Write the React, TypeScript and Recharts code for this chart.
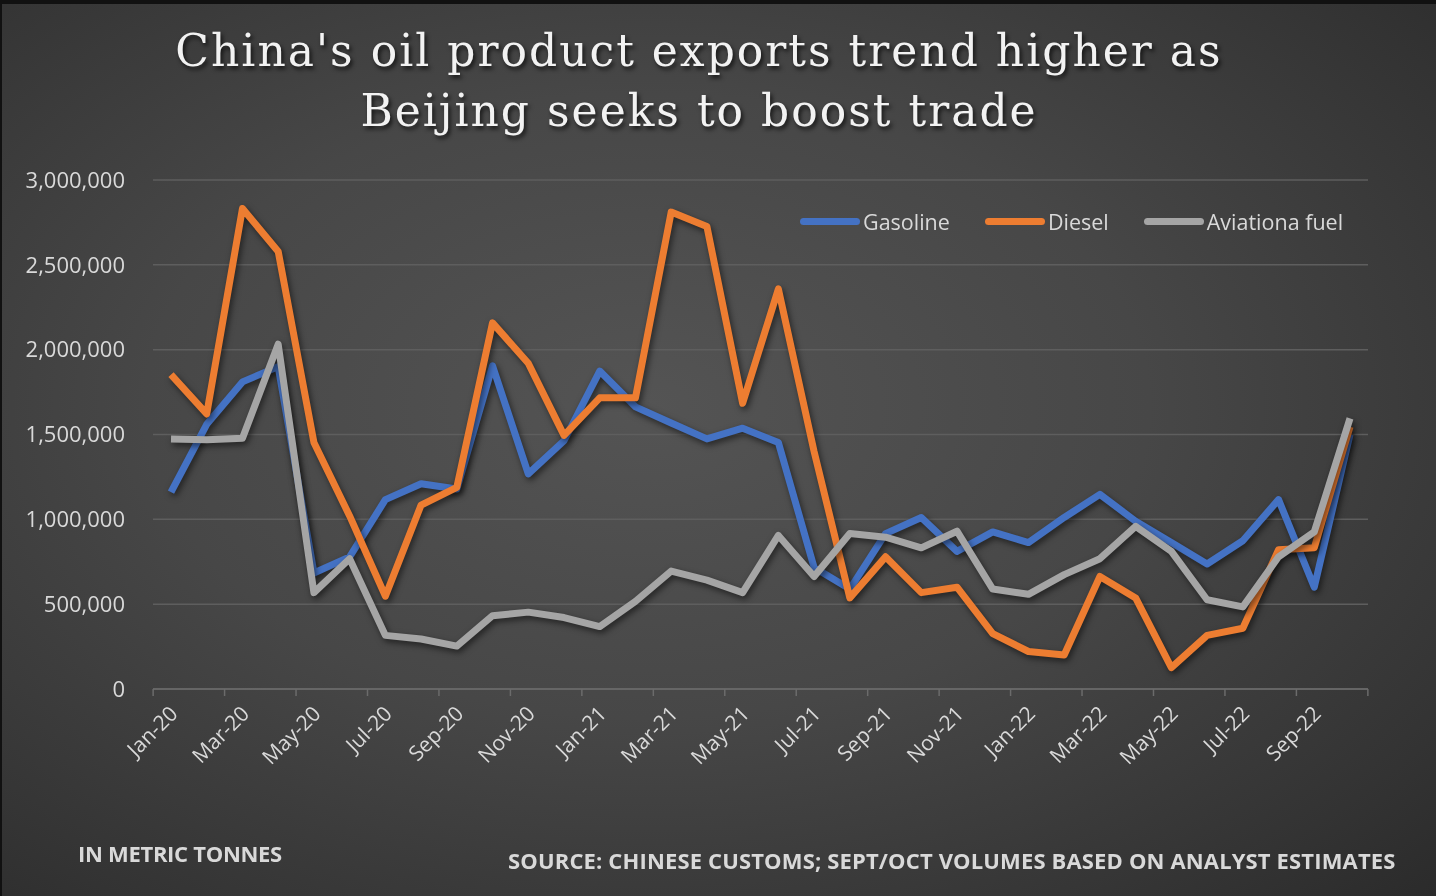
import { CartesianGrid, Line, LineChart, XAxis, YAxis } from 'recharts';

const months = [
  'Jan-20', 'Feb-20', 'Mar-20', 'Apr-20', 'May-20', 'Jun-20', 'Jul-20', 'Aug-20', 'Sep-20', 'Oct-20', 'Nov-20', 'Dec-20',
  'Jan-21', 'Feb-21', 'Mar-21', 'Apr-21', 'May-21', 'Jun-21', 'Jul-21', 'Aug-21', 'Sep-21', 'Oct-21', 'Nov-21', 'Dec-21',
  'Jan-22', 'Feb-22', 'Mar-22', 'Apr-22', 'May-22', 'Jun-22', 'Jul-22', 'Aug-22', 'Sep-22', 'Oct-22',
];

const gasoline = [
  1160000, 1560000, 1810000, 1900000, 684000, 779000, 1116000, 1210000, 1179000, 1905000, 1268000, 1463000,
  1874000, 1663000, 1568000, 1474000, 1537000, 1453000, 716000, 589000, 916000, 1011000, 811000, 926000,
  863000, 1011000, 1147000, 989000, 863000, 737000, 874000, 1116000, 600000, 1500000,
];

const diesel = [
  1853000, 1621000, 2832000, 2579000, 1453000, 1020000, 547000, 1084000, 1189000, 2158000, 1920000, 1495000,
  1716000, 1716000, 2811000, 2726000, 1684000, 2358000, 1400000, 537000, 779000, 568000, 600000, 326000,
  221000, 200000, 663000, 537000, 126000, 316000, 358000, 821000, 832000, 1545000,
];

const aviation = [
  1474000, 1469000, 1478000, 2032000, 568000, 768000, 316000, 295000, 253000, 432000, 453000, 421000,
  368000, 516000, 695000, 642000, 568000, 905000, 663000, 916000, 895000, 832000, 930000, 589000,
  558000, 674000, 768000, 958000, 811000, 526000, 484000, 779000, 926000, 1595000,
];

const yTicks = [0, 500000, 1000000, 1500000, 2000000, 2500000, 3000000];

const seriesInfo = [
  { key: 'gasoline', name: 'Gasoline', color: '#4472C4' },
  { key: 'diesel', name: 'Diesel', color: '#ED7D31' },
  { key: 'aviation', name: 'Aviationa fuel', color: '#A5A5A5' },
];

const data = months.map((m, i) => ({
  month: m,
  gasoline: gasoline[i],
  diesel: diesel[i],
  aviation: aviation[i],
}));

const textColor = '#d9d9d9';
const sans = '"Open Sans", "Noto Sans", sans-serif';

const MonthTick = (props: any) => {
  const { x, y, payload, index, width } = props;
  const band = width / months.length;
  const isLast = index === Math.ceil(months.length / 2) - 1;
  return (
    <g>
      <line x1={x - band / 2} x2={x - band / 2} y1={y - 8} y2={y - 1} stroke="#6b6b6b" strokeWidth={1.5} />
      {isLast && (
        <line x1={x + band * 1.5} x2={x + band * 1.5} y1={y - 8} y2={y - 1} stroke="#6b6b6b" strokeWidth={1.5} />
      )}
      <text
        x={x + 8}
        y={y + 18}
        transform={`rotate(-45 ${x + 8} ${y + 18})`}
        textAnchor="end"
        fill={textColor}
        fontSize={21}
        fontFamily={sans}
      >
        {payload.value}
      </text>
    </g>
  );
};

const LegendBox = () => (
  <div
    style={{
      position: 'absolute',
      top: 203,
      left: 798,
      display: 'flex',
      alignItems: 'center',
      fontFamily: sans,
      fontSize: 21.5,
      color: textColor,
    }}
  >
    {seriesInfo.map((s) => (
      <div key={s.key} style={{ display: 'flex', alignItems: 'center', marginRight: 35 }}>
        <span style={{ display: 'inline-block', width: 60, height: 7, borderRadius: 4, background: s.color, marginRight: 3 }} />
        <span>{s.name}</span>
      </div>
    ))}
  </div>
);

export default function App() {
  return (
    <div
      style={{
        position: 'fixed',
        top: 0,
        left: 0,
        width: 1436,
        height: 896,
        background: 'radial-gradient(ellipse at 45% 45%, #545454 0%, #474747 45%, #333333 85%, #2b2b2b 100%)',
        borderTop: '4px solid #111',
        borderLeft: '2px solid #111',
        boxSizing: 'border-box',
        overflow: 'hidden',
      }}
    >
      <style>{`.recharts-line-curve { filter: drop-shadow(2px 3px 3px rgba(0,0,0,0.55)); }`}</style>
      <div
        style={{
          position: 'absolute',
          top: 17,
          left: 0,
          width: 1394,
          textAlign: 'center',
          fontFamily: '"DejaVu Serif", serif',
          fontSize: 44,
          letterSpacing: 2,
          lineHeight: '60px',
          color: '#f2f2f2',
          textShadow: '2px 3px 4px rgba(0,0,0,0.7)',
        }}
      >
        China's oil product exports trend higher as
        <br />
        Beijing seeks to boost trade
      </div>
      <div style={{ position: 'absolute', top: -4, left: -2 }}>
        <LineChart width={1436} height={896} data={data} margin={{ top: 180, right: 68, bottom: 0, left: 0 }}>
          <CartesianGrid vertical={false} stroke="#5e5e5e" strokeWidth={1.5} />
          <XAxis
            dataKey="month"
            interval={1}
            height={207}
            padding={{ left: 18, right: 18 }}
            tick={<MonthTick />}
            tickLine={false}
            axisLine={{ stroke: '#6b6b6b', strokeWidth: 1.5 }}
          />
          <YAxis
            width={153}
            domain={[0, 3000000]}
            ticks={yTicks}
            tickFormatter={(v: number) => v.toLocaleString('en-US')}
            tick={{ fill: textColor, fontSize: 22, fontFamily: sans }}
            tickLine={false}
            axisLine={false}
            tickMargin={22}
          />
          {seriesInfo.map((s) => (
            <Line
              key={s.key}
              type="linear"
              dataKey={s.key}
              name={s.name}
              stroke={s.color}
              strokeWidth={7}
              strokeLinejoin="round"
              dot={false}
              isAnimationActive={false}
            />
          ))}
        </LineChart>
      </div>
      <LegendBox />
      <div
        style={{
          position: 'absolute',
          top: 834,
          left: 76,
          fontFamily: sans,
          fontWeight: 700,
          fontSize: 22,
          color: textColor,
          letterSpacing: -0.3,
        }}
      >
        IN METRIC TONNES
      </div>
      <div
        style={{
          position: 'absolute',
          top: 841,
          left: 506,
          fontFamily: sans,
          fontWeight: 700,
          fontSize: 22,
          color: textColor,
          letterSpacing: 0.15,
        }}
      >
        SOURCE: CHINESE CUSTOMS; SEPT/OCT VOLUMES BASED ON ANALYST ESTIMATES
      </div>
    </div>
  );
}
